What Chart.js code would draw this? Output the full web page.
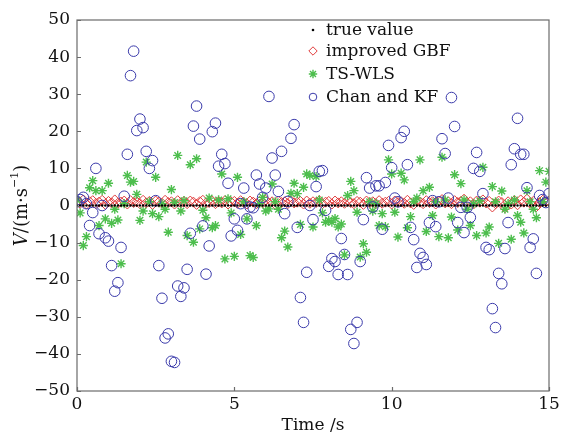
<!DOCTYPE html>
<html>
<head>
<meta charset="utf-8">
<script src="https://cdn.jsdelivr.net/npm/chart.js@4/dist/chart.umd.min.js"></script>
<style>
  html, body { margin: 0; padding: 0; background: #fff; }
  #wrap { width: 563px; height: 436px; }
</style>
</head>
<body>
<div id="wrap"><canvas id="chart" width="563" height="436"></canvas></div>
<script>
// sample step (s), samples run 0 .. 15 s
var dt = 0.1;
var sampleCount = 151;

var seriesNames = ['true value', 'improved GBF', 'TS-WLS', 'Chan and KF'];
var xTicks = [0, 5, 10, 15];
var yTicks = [-50, -40, -30, -20, -10, 0, 10, 20, 30, 40, 50];

var trueValue = [
  0, 0, 0, 0, 0, 0, 0, 0, 0, 0, 0, 0, 0, 0, 0, 0, 0, 0, 0, 0,
  0, 0, 0, 0, 0, 0, 0, 0, 0, 0, 0, 0, 0, 0, 0, 0, 0, 0, 0, 0,
  0, 0, 0, 0, 0, 0, 0, 0, 0, 0, 0, 0, 0, 0, 0, 0, 0, 0, 0, 0,
  0, 0, 0, 0, 0, 0, 0, 0, 0, 0, 0, 0, 0, 0, 0, 0, 0, 0, 0, 0,
  0, 0, 0, 0, 0, 0, 0, 0, 0, 0, 0, 0, 0, 0, 0, 0, 0, 0, 0, 0,
  0, 0, 0, 0, 0, 0, 0, 0, 0, 0, 0, 0, 0, 0, 0, 0, 0, 0, 0, 0,
  0, 0, 0, 0, 0, 0, 0, 0, 0, 0, 0, 0, 0, 0, 0, 0, 0, 0, 0, 0,
  0, 0, 0, 0, 0, 0, 0, 0, 0, 0, 0
];

var improvedGBF = [
  1.2, 0.6, 1.5, 0.4, 1.0, 1.3, 0.5, 0.9, 1.4, 0.3,
  1.1, 0.7, 1.5, 0.6, 0.9, 1.2, 0.4, 1.3, 0.8, 1.0,
  0.5, 1.4, 0.7, 1.1, 0.3, 1.2, 0.9, 0.6, 1.4, 0.8,
  1.0, 0.4, 1.3, 0.7, 1.1, 0.5, 1.2, 0.9, 0.3, 1.0,
  1.4, 0.6, 0.8, 1.2, 0.5, 1.0, 0.7, 1.3, 0.4, 0.9,
  1.1, 0.6, 1.3, 0.8, 0.4, 1.2, 0.9, 0.5, 1.1, 0.7,
  1.4, 0.6, 1.0, 0.3, 1.2, 0.8, 1.0, 0.5, 1.3, 0.7,
  0.9, 1.1, 0.4, 1.2, 0.6, 1.0, 0.8, 1.3, 0.5, 0.9,
  1.1, 0.4, 1.2, 0.7, 1.0, 0.6, 1.3, 0.8, 0.5, 1.1,
  0.9, 0.3, 1.2, 0.7, 1.0, 0.5, 1.3, 0.6, 0.9, 1.1,
  0.4, 1.2, 0.8, 1.0, 0.6, 1.4, 0.7, 0.3, 1.1, 0.9,
  0.5, 1.3, 0.8, 1.0, 0.4, 1.2, 1.6, 0.7, 1.0, 0.5,
  1.3, 0.8, 1.1, 1.7, 0.6, 1.0, 0.4, 1.2, 0.9, 1.5,
  0.7, 1.1, -0.4, 0.5, 1.2, 0.8, -0.6, 1.0, 0.4, 1.3,
  0.2, 1.5, 0.9, 1.7, 0.6, 1.1, -0.3, 0.8, 1.4, 1.0,
  1.2
];

var tsWLS = [
  1.5, -2.0, -10.8, -8.4, 4.8, 6.7, 4.0, -5.4, 4.0, -3.6,
  6.0, -4.8, -1.0, -3.9, -15.7, 0.5, 8.1, 6.3, 6.5, 3.0,
  -4.0, -1.5, 11.7, 1.0, -2.2, 7.6, -3.0, 0.5, -1.0, -7.2,
  4.3, 0.8, 13.5, -1.5, 1.3, -8.1, 11.0, -9.9, 12.6, -6.3,
  -1.3, -3.3, 2.0, -6.0, -5.4, 1.5, 8.5, -14.4, 1.8, -2.0,
  -13.7, 7.6, -7.8, 1.0, -3.6, -13.5, -14.0, -5.4, 0.5, 2.2,
  -1.5, -0.9, 5.8, 1.0, -1.0, -8.7, -6.9, -11.2, 3.3, 6.0,
  3.2, -5.1, 4.9, 8.5, 8.1, -5.8, 7.8, 1.5, -2.0, -4.5,
  -4.0, -4.5, -3.5, -5.8, -5.0, -13.3, 2.7, 6.5, 4.0, -1.8,
  -13.9, -10.3, -12.6, 1.0, -1.5, 0.5, -5.4, -2.2, -5.7, 12.3,
  8.5, -1.8, -8.5, 8.7, 6.9, -6.0, -3.0, 1.0, 2.0, 12.3,
  4.0, -7.0, 4.9, -2.7, 1.0, -8.4, 13.0, 1.5, -8.7, -3.1,
  8.3, -6.6, 5.9, 1.5, -1.0, -5.4, 0.5, -8.1, 1.3, 10.3,
  -7.4, -5.8, 5.1, 1.0, -10.2, 3.9, -1.0, 0.5, -9.1, 1.5,
  -2.7, -4.5, -7.4, 4.0, 1.0, -1.0, -3.3, 9.4, 1.0, 6.3,
  9.2
];

var chanKF = [
  1.0, 1.6, 2.2, 0.5, -5.4, -1.9, 10.0, -7.6, 0.0, -8.7,
  -9.6, -16.2, -23.1, -20.8, -11.3, 2.5, 13.8, 35.0, 41.6, 20.2,
  23.3, 21.0, 14.6, 10.0, 12.1, 1.3, -16.2, -25.0, -35.7, -34.6,
  -42.0, -42.3, -21.7, -24.5, -22.2, -17.2, -7.5, 21.4, 26.8, 17.9,
  -5.5, -18.5, -10.9, 19.9, 22.2, 10.6, 13.8, 11.3, 6.0, -8.2,
  -3.6, -6.7, 0.5, 4.7, -3.6, -0.4, -0.6, 8.2, 5.8, 2.2,
  4.7, 29.4, 12.8, 8.2, 3.8, 14.6, -2.2, 1.1, 18.1, 21.8,
  -5.9, -24.8, -31.5, -18.0, 0.0, -3.8, 5.1, 9.2, 9.4, -1.3,
  -16.4, -14.3, -15.1, -18.6, -8.9, -13.2, -18.6, -33.4, -37.2, -31.5,
  -15.1, -3.8, 7.5, 4.7, -0.4, 5.3, 5.3, -6.4, 6.2, 16.2,
  10.2, 2.0, 1.0, 18.3, 20.0, 11.0, -5.9, -9.2, -16.7, -12.9,
  -14.0, -15.9, -4.6, 1.3, -5.7, 1.0, 18.0, 14.0, 2.0, 29.1,
  21.3, -4.6, -0.5, -7.3, -0.5, -3.2, 10.0, 14.3, 9.2, 3.2,
  -11.3, -11.9, -27.8, -32.9, -18.3, -21.1, -11.6, -4.6, 11.0, 15.3,
  23.5, 13.8, 13.8, 4.8, -11.3, -9.0, -18.3, 2.7, 1.6, 0.8,
  3.2
];

var times = [];
for (var i = 0; i < sampleCount; i++) {
  times.push(Math.round(i * dt * 10) / 10);
}

function toPoints(values) {
  return values.map(function (v, i) { return { x: times[i], y: v }; });
}

var FONT = '"DejaVu Serif", "Liberation Serif", serif';
var FRAME = '#6b6b6b';
var NONE = 'rgba(0,0,0,0)';

var datasets = [
  {
    label: seriesNames[0], data: toPoints(trueValue), order: 0,
    pointStyle: 'circle', pointRadius: 1.2, borderWidth: 0,
    backgroundColor: '#000', borderColor: '#000'
  },
  {
    label: seriesNames[1], data: toPoints(improvedGBF), order: 3,
    pointStyle: 'rectRot', pointRadius: 5, borderWidth: 1,
    backgroundColor: NONE, borderColor: '#e03c3c'
  },
  {
    label: seriesNames[2], data: toPoints(tsWLS), order: 2,
    pointStyle: 'star', pointRadius: 4.6, borderWidth: 1.4,
    backgroundColor: NONE, borderColor: '#4dbe4d'
  },
  {
    label: seriesNames[3], data: toPoints(chanKF), order: 1,
    pointStyle: 'circle', pointRadius: 5.3, borderWidth: 1,
    backgroundColor: NONE, borderColor: '#3a3aaa'
  }
];

// frame, inward ticks, y title and legend drawn on top of the chart
var decorations = {
  id: 'decorations',
  afterDraw: function (chart) {
    var ctx = chart.ctx;
    var area = chart.chartArea;
    var xs = chart.scales.x;
    var ys = chart.scales.y;
    ctx.save();

    ctx.strokeStyle = FRAME;
    ctx.lineWidth = 1.2;
    ctx.strokeRect(area.left, area.top, area.right - area.left, area.bottom - area.top);

    ctx.beginPath();
    yTicks.forEach(function (v) {
      var py = Math.round(ys.getPixelForValue(v)) + 0.5;
      ctx.moveTo(area.left, py);
      ctx.lineTo(area.left + 4, py);
    });
    xTicks.forEach(function (v) {
      var px = Math.round(xs.getPixelForValue(v)) + 0.5;
      ctx.moveTo(px, area.bottom);
      ctx.lineTo(px, area.bottom - 4);
    });
    ctx.stroke();

    // y axis title: V/(m·s^-1)
    ctx.translate(22, (area.top + area.bottom) / 2);
    ctx.rotate(-Math.PI / 2);
    ctx.fillStyle = '#111';
    ctx.textBaseline = 'middle';
    var parts = [
      { t: 'V', f: 'italic 18px ' + FONT, dy: 0 },
      { t: '/(m\u00b7s', f: '18px ' + FONT, dy: 0 },
      { t: '\u22121', f: '11px ' + FONT, dy: -7 },
      { t: ')', f: '18px ' + FONT, dy: 0 }
    ];
    var total = 0;
    parts.forEach(function (p) { ctx.font = p.f; p.w = ctx.measureText(p.t).width; total += p.w; });
    var cx = -total / 2;
    parts.forEach(function (p) {
      ctx.font = p.f;
      ctx.textAlign = 'left';
      ctx.fillText(p.t, cx, p.dy);
      cx += p.w;
    });
    ctx.restore();

    // legend
    ctx.save();
    var rowsY = [30, 51, 74, 97];
    var legendX = 313;
    ctx.font = '17px ' + FONT;
    ctx.textBaseline = 'middle';
    ctx.textAlign = 'left';
    chart.data.datasets.forEach(function (ds, k) {
      var y = rowsY[k];
      if (k === 0) {
        ctx.fillStyle = '#000';
        ctx.beginPath();
        ctx.arc(legendX, y, 1.3, 0, Math.PI * 2);
        ctx.fill();
      } else {
        ctx.fillStyle = NONE;
        ctx.strokeStyle = ds.borderColor;
        ctx.lineWidth = ds.borderWidth;
        Chart.helpers.drawPoint(ctx, {
          pointStyle: ds.pointStyle,
          radius: k === 3 ? 3.8 : 4.2,
          borderWidth: ds.borderWidth
        }, legendX, y);
      }
      ctx.fillStyle = '#111';
      ctx.fillText(ds.label, 326, y + 1);
    });
    ctx.restore();
  }
};

var ctx = document.getElementById('chart').getContext('2d');
new Chart(ctx, {
  type: 'scatter',
  data: { datasets: datasets },
  plugins: [decorations],
  options: {
    responsive: false,
    animation: false,
    layout: { padding: { left: 0, right: 14, top: 20, bottom: 0 } },
    plugins: {
      legend: { display: false },
      tooltip: { enabled: false }
    },
    scales: {
      x: {
        type: 'linear', min: 0, max: 15,
        afterBuildTicks: function (scale) {
          scale.ticks = xTicks.map(function (v) { return { value: v }; });
        },
        afterFit: function (scale) { scale.height = 45; },
        grid: { display: false, drawTicks: false },
        border: { display: false },
        ticks: {
          padding: 3, color: '#111', maxRotation: 0,
          font: { family: FONT, size: 17 }
        },
        title: {
          display: true, text: 'Time /s', color: '#111', padding: 0,
          font: { family: FONT, size: 17 }
        }
      },
      y: {
        type: 'linear', min: -50, max: 50,
        afterBuildTicks: function (scale) {
          scale.ticks = yTicks.map(function (v) { return { value: v }; });
        },
        afterFit: function (scale) { scale.width = 77; },
        grid: { display: false, drawTicks: false },
        border: { display: false },
        ticks: {
          padding: 7, color: '#111',
          font: { family: FONT, size: 17 },
          callback: function (v) { return v < 0 ? '\u2212' + Math.abs(v) : String(v); }
        }
      }
    }
  }
});
</script>
</body>
</html>
